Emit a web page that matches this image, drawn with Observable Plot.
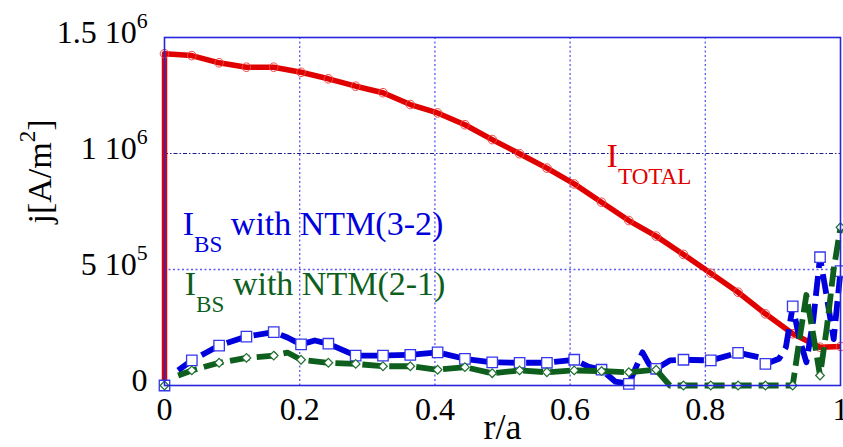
<!DOCTYPE html>
<html>
<head>
<meta charset="utf-8">
<script src="https://cdn.jsdelivr.net/npm/d3@7"></script>
<script src="https://cdn.jsdelivr.net/npm/@observablehq/plot@0.6"></script>
<style>
  html, body { margin: 0; padding: 0; background: #fff; }
  #chart svg { display: block; }
</style>
</head>
<body>
<div id="chart"></div>
<script>
// Current density profiles j(r/a) in A/m^2

// Radial positions carrying a marker (every fourth grid point, plus the edge)
const markR = [0, 0.0404, 0.0808, 0.1212, 0.1616, 0.2020, 0.2424, 0.2828, 0.3232, 0.3636,
  0.4040, 0.4444, 0.4848, 0.5253, 0.5657, 0.6061, 0.6465, 0.6869, 0.7273, 0.7677,
  0.8081, 0.8485, 0.8889, 0.9293, 0.9697, 1.0];

// Total current: rises vertically at the axis, then decays outwards
const totalR = [0, 0, 0.0404, 0.0808, 0.1212, 0.1616, 0.2020, 0.2424, 0.2828, 0.3232, 0.3636,
  0.4040, 0.4444, 0.4848, 0.5253, 0.5657, 0.6061, 0.6465, 0.6869, 0.7273, 0.7677,
  0.8081, 0.8485, 0.8889, 0.9293, 0.9697, 1.0];
const totalV = [0, 1.430e6, 1.422e6, 1.391e6, 1.372e6, 1.372e6, 1.350e6, 1.322e6, 1.290e6, 1.262e6, 1.211e6,
  1.175e6, 1.124e6, 1.060e6, 0.999e6, 0.937e6, 0.869e6, 0.790e6, 0.711e6, 0.644e6, 0.565e6,
  0.484e6, 0.402e6, 0.309e6, 0.223e6, 0.165e6, 0.168e6];

// Bootstrap current with the (3,2) NTM
const bs32R = [0.0202, 0.0404, 0.0606, 0.0808, 0.1212, 0.1616, 0.1818, 0.2020, 0.2222, 0.2424,
  0.2828, 0.3232, 0.3636, 0.4040, 0.4444, 0.4848, 0.5253, 0.5657, 0.6061, 0.6263,
  0.6465, 0.6667, 0.6869, 0.7071, 0.7172, 0.7273, 0.7475, 0.7677, 0.8081, 0.8485,
  0.8788, 0.8889, 0.9091, 0.9192, 0.9293, 0.9394, 0.9495, 0.9596, 0.9697, 0.9798,
  0.9899, 1.0];
const bs32V = [0.065e6, 0.108e6, 0.140e6, 0.172e6, 0.211e6, 0.230e6, 0.207e6, 0.177e6, 0.194e6, 0.180e6,
  0.129e6, 0.129e6, 0.132e6, 0.143e6, 0.115e6, 0.100e6, 0.098e6, 0.098e6, 0.111e6, 0.082e6,
  0.068e6, 0.017e6, 0.007e6, 0.143e6, 0.090e6, 0.072e6, 0.108e6, 0.111e6, 0.108e6, 0.141e6,
  0.122e6, 0.093e6, 0.115e6, 0.165e6, 0.341e6, 0.200e6, 0.100e6, 0.280e6, 0.553e6, 0.380e6,
  0.200e6, 0.493e6];
const bs32MarkV = [0, 0.108e6, 0.172e6, 0.211e6, 0.230e6, 0.177e6, 0.180e6, 0.129e6, 0.129e6, 0.132e6,
  0.143e6, 0.115e6, 0.100e6, 0.098e6, 0.098e6, 0.111e6, 0.068e6, 0.007e6, 0.072e6, 0.111e6,
  0.108e6, 0.141e6, 0.093e6, 0.341e6, 0.553e6, 0.493e6];

// Bootstrap current with the (2,1) NTM
const bs21R = [0.0202, 0.0404, 0.0808, 0.1212, 0.1616, 0.1818, 0.2020, 0.2424, 0.2828, 0.3232,
  0.3636, 0.4040, 0.4444, 0.4848, 0.5253, 0.5657, 0.6061, 0.6465, 0.6869, 0.7273,
  0.7374, 0.7475, 0.7677, 0.8081, 0.8485, 0.8889, 0.9293, 0.9394, 0.9495, 0.9596,
  0.9697, 0.9798, 0.9899, 1.0];
const bs21V = [0.043e6, 0.065e6, 0.098e6, 0.119e6, 0.129e6, 0.142e6, 0.111e6, 0.098e6, 0.093e6, 0.083e6,
  0.083e6, 0.068e6, 0.079e6, 0.053e6, 0.065e6, 0.057e6, 0.065e6, 0.062e6, 0.057e6, 0.068e6,
  0.034e6, 0, 0, 0, 0, 0, 0, 0.200e6, 0.390e6, 0.220e6,
  0.043e6, 0.250e6, 0.500e6, 0.682e6];
const bs21MarkV = [0, 0.065e6, 0.098e6, 0.119e6, 0.129e6, 0.111e6, 0.098e6, 0.093e6, 0.083e6, 0.083e6,
  0.068e6, 0.079e6, 0.053e6, 0.065e6, 0.057e6, 0.065e6, 0.062e6, 0.057e6, 0.068e6, 0,
  0, 0, 0, 0, 0.043e6, 0.682e6];

// Axis ticks and their labels (^{..} marks a superscript, _{..} a subscript)
const xTicks = [0, 0.2, 0.4, 0.6, 0.8, 1];
const xTickLabels = ["0", "0.2", "0.4", "0.6", "0.8", "1"];
const yTicks = [0, 5e5, 1e6, 1.5e6];
const yTickLabels = ["0", "5 10^{5}", "1 10^{6}", "1.5 10^{6}"];
const seriesLabels = ["I_{TOTAL}", "I_{BS} with NTM(3-2)", "I_{BS} with NTM(2-1)"];
const xLabel = "r/a";
const yLabel = "j[A/m^{2}]";

const RED = "#e00000", BLUE = "#0000dc", GREEN = "#0e5f1e";
const rows = (R, V) => R.map((r, i) => ({r, v: V[i]}));

const chart = Plot.plot({
  width: 843,
  height: 447,
  marginLeft: 164,
  marginRight: 3,
  marginTop: 37,
  marginBottom: 62,
  style: {fontFamily: "'Liberation Serif', 'DejaVu Serif', serif", background: "#fff", overflow: "hidden"},
  x: {domain: [0, 1]},
  y: {domain: [0, 1.5e6]},
  marks: [
    // dotted grid
    Plot.ruleX(xTicks.slice(1, -1), {stroke: "#5a5af0", strokeWidth: 1.3, strokeDasharray: "2,2.5"}),
    Plot.ruleY([yTicks[1]], {stroke: "#5a5af0", strokeWidth: 1.3, strokeDasharray: "2,2.5"}),
    Plot.ruleY([yTicks[2]], {stroke: "#1c1c90", strokeWidth: 1.2, strokeDasharray: "4,2,1.5,2"}),

    // total current
    Plot.line(rows(totalR, totalV), {x: "r", y: "v", stroke: RED, strokeWidth: 5.5, strokeLinecap: "butt"}),
    Plot.dot(rows(totalR, totalV), {x: "r", y: "v", r: 4.3, stroke: "#f04848", strokeWidth: 1, fill: "none"}),

    // bootstrap current, NTM(3-2)
    Plot.line(rows(bs32R, bs32V), {x: "r", y: "v", stroke: BLUE, strokeWidth: 5.8, strokeDasharray: "20,8", strokeLinecap: "butt"}),
    Plot.dot(rows(markR, bs32MarkV), {x: "r", y: "v", symbol: "square", r: 5.9, stroke: "#3636ee", strokeWidth: 1.3, fill: "#fff"}),

    // bootstrap current, NTM(2-1)
    Plot.line(rows(bs21R, bs21V), {x: "r", y: "v", stroke: GREEN, strokeWidth: 5.8, strokeDasharray: "20,7", strokeLinecap: "butt"}),
    Plot.dot(rows(markR, bs21MarkV), {x: "r", y: "v", symbol: "diamond2", r: 3.9, stroke: "#1c6e2c", strokeWidth: 1.2, fill: "#fff"}),

    // in-plot series labels
    Plot.text([seriesLabels[0]], {x: 0.654, y: 0.94e6, textAnchor: "start", lineAnchor: "bottom", fill: RED, fontSize: 34}),
    Plot.text([seriesLabels[1]], {x: 0.027, y: 0.647e6, textAnchor: "start", lineAnchor: "bottom", fill: BLUE, fontSize: 34}),
    Plot.text([seriesLabels[2]], {x: 0.030, y: 0.388e6, textAnchor: "start", lineAnchor: "bottom", fill: GREEN, fontSize: 34}),

    Plot.frame({stroke: "#2626dc", strokeWidth: 1.6}),

    Plot.axisX(xTicks, {tickSize: 0, tickPadding: 12, fontSize: 32, fill: "#000", label: null,
      tickFormat: (d) => xTickLabels[xTicks.indexOf(d)]}),
    Plot.axisY(yTicks, {tickSize: 0, tickPadding: 17, fontSize: 32, fill: "#000", dy: -5, label: null,
      tickFormat: (d) => yTickLabels[yTicks.indexOf(d)]}),

    // axis titles
    Plot.text([xLabel], {frameAnchor: "bottom", dy: 53, lineAnchor: "bottom", fontSize: 36, fill: "#000"}),
    Plot.text([yLabel], {frameAnchor: "left", rotate: -90, dx: -114, dy: 12, lineAnchor: "bottom", fontSize: 34, fill: "#000"})
  ]
});

document.getElementById("chart").appendChild(chart);

// Turn ^{..} and _{..} runs into raised / lowered tspans
function richText(root) {
  const NS = "http://www.w3.org/2000/svg";
  root.querySelectorAll("text").forEach((t) => {
    const s = t.textContent;
    if (!/[\^_]\{/.test(s)) return;
    const fs = parseFloat(getComputedStyle(t).fontSize);
    const parts = [];
    const re = /([\^_])\{([^}]*)\}/g;
    let last = 0, m;
    while ((m = re.exec(s))) {
      if (m.index > last) parts.push({kind: "", str: s.slice(last, m.index)});
      parts.push({kind: m[1], str: m[2]});
      last = re.lastIndex;
    }
    if (last < s.length) parts.push({kind: "", str: s.slice(last)});
    t.textContent = "";
    t.style.whiteSpace = "pre";
    let cur = 0;
    for (const p of parts) {
      const target = p.kind === "^" ? -0.45 * fs : p.kind === "_" ? 0.5 * fs : 0;
      const ts = document.createElementNS(NS, "tspan");
      if (target !== cur) ts.setAttribute("dy", (target - cur).toFixed(2));
      if (p.kind) ts.setAttribute("font-size", (0.68 * fs).toFixed(2));
      ts.textContent = p.str;
      t.appendChild(ts);
      cur = target;
    }
  });
}
richText(chart);
</script>
</body>
</html>
